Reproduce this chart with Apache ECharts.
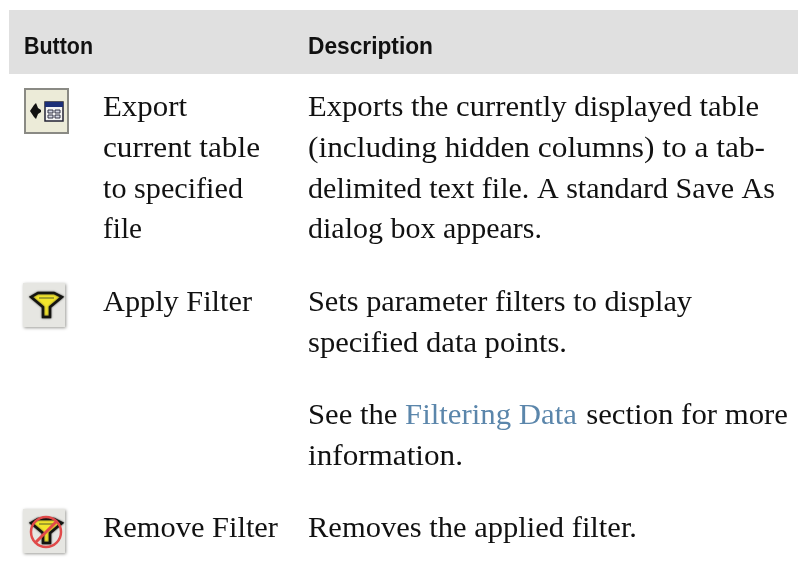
<!DOCTYPE html>
<html><head><meta charset="utf-8">
<style>html,body{margin:0;padding:0;background:#fff}#c{width:798px;height:568px}</style>
<script src="https://cdn.jsdelivr.net/npm/echarts@6/dist/echarts.min.js"></script>
</head><body><div id="c"></div>
<script>
const headers = ['Button', 'Description'];
const buttonLines = [
  ['Export', 'current table', 'to specified', 'file'],
  ['Apply Filter'],
  ['Remove Filter']
];
const descriptionLines = [
  ['Exports the currently displayed table', '(including hidden columns) to a tab-', 'delimited text file. A standard Save As', 'dialog box appears.'],
  ['Sets parameter filters to display', 'specified data points.'],
  ['Removes the applied filter.']
];
const seeAlso = ['See the ', 'Filtering Data', ' section for more', 'information.'];

// Right edge of each line in the reference, used to fit the substitute font's width
const buttonEnds = [[187, 260, 243, 142], [252], [278]];
const descriptionEnds = [[759, 765, 775, 542], [692, 567], [637]];

const bodyFont = '29px "Liberation Serif", serif';
const headFont = 'bold 24px "Liberation Sans", sans-serif';
const ctx = document.createElement('canvas').getContext('2d');
const els = [];
const DESC = 6;
const fit = (s, font, x, end) => { ctx.font = font; return (end - x) / ctx.measureText(s).width; };
const txt = (x, y, s, end, o = {}) => {
  const font = o.font || bodyFont;
  els.push({type:'text', x, y: y + DESC, scaleX: fit(s, font, x, end),
    style:Object.assign({text:s, fill:'#111', font, verticalAlign:'bottom', textVerticalAlign:'bottom'}, o)});
};
const rect = (x, y, w, h, fill, extra={}) => els.push({type:'rect', shape:{x,y,width:w,height:h}, style:Object.assign({fill}, extra)});

rect(9, 10, 789, 64, '#e0e0e0');
txt(24, 59 - DESC, headers[0], 93, {font:headFont});
txt(308, 59 - DESC, headers[1], 433, {font:headFont});

const rowY = [117, 312, 538];
const step = 40.7;
buttonLines.forEach((ls,i)=>ls.forEach((s,j)=>txt(103, rowY[i]+j*step, s, buttonEnds[i][j])));
descriptionLines.forEach((ls,i)=>ls.forEach((s,j)=>txt(308, rowY[i]+j*step, s, descriptionEnds[i][j])));

const seeY = 425;
txt(308, seeY, seeAlso[0], 405);
txt(405, seeY, seeAlso[1], 577, {fill:'#5b86ab'});
txt(578.5, seeY, seeAlso[2], 788);
txt(308, seeY+step, seeAlso[3], 463);

// Icon 1
rect(25, 89, 43, 44, '#ecebd8', {stroke:'#8a8a84', lineWidth:2});
els.push({type:'polygon', shape:{points:[[30,111],[34,105],[36,103],[38,108],[41,110],[41,112],[38,114],[36,119],[34,117]]}, style:{fill:'#111'}});
rect(45, 102, 18, 19, '#f4f4f4', {stroke:'#223', lineWidth:1.5});
rect(45, 102, 18, 5, '#1c2f78');
[[48,110],[55,110],[48,115],[55,115]].forEach(p=>rect(p[0], p[1], 5, 3, '#d5d8e4', {stroke:'#334', lineWidth:1}));

function funnel(cx, cy){
  rect(cx-24, cy-23, 42, 44, '#e6e6e2', {shadowBlur:3, shadowColor:'#9a9a95', shadowOffsetX:1, shadowOffsetY:1});
  els.push({type:'polygon', shape:{points:[[cx-16,cy-9],[cx-9,cy-13],[cx+7,cy-13],[cx+15,cy-9],[cx+3,cy+1],[cx+3,cy+11],[cx-4,cy+11],[cx-4,cy+1]]}, style:{fill:'#f2e52c', stroke:'#141410', lineWidth:2.5, shadowBlur:2, shadowColor:'#333'}});
  els.push({type:'line', shape:{x1:cx-8,y1:cy-8,x2:cx+7,y2:cy-8}, style:{stroke:'#a3a02a', lineWidth:2}});
}
funnel(47, 306);
funnel(47, 532);
els.push({type:'circle', shape:{cx:46, cy:532, r:15}, style:{fill:'none', stroke:'#e04a4a', lineWidth:2.5}});
els.push({type:'line', shape:{x1:35,y1:543,x2:57,y2:521}, style:{stroke:'#e04a4a', lineWidth:3}});

const chart = echarts.init(document.getElementById('c'), null, {renderer:'canvas'});
chart.setOption({animation:false, backgroundColor:'#fff', graphic:{elements:els}});
</script></body></html>
